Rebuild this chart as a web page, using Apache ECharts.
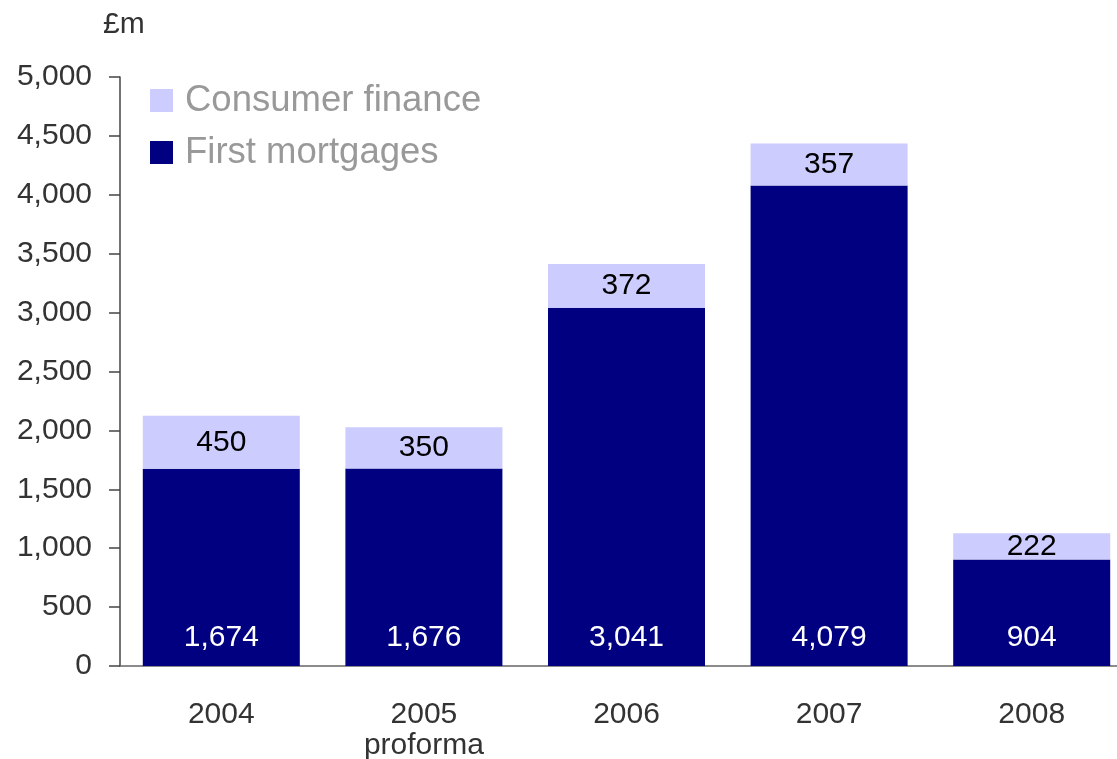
<!DOCTYPE html>
<html><head><meta charset="utf-8">
<script src="https://cdn.jsdelivr.net/npm/echarts@6/dist/echarts.min.js"></script>
<style>html,body{margin:0;padding:0;background:#fff}#c{width:1117px;height:759px}</style>
</head><body><div id="c"></div>
<script>
const categories = ['2004', '2005\nproforma', '2006', '2007', '2008'];
const firstMortgages = [1674, 1676, 3041, 4079, 904];
const consumerFinance = [450, 350, 372, 357, 222];
const yTicks = {min: 0, max: 5000, interval: 500};
const unitLabel = '£m';

const font = 'Liberation Sans, Arial, sans-serif';
const chart = echarts.init(document.getElementById('c'));
chart.setOption({
  animation: false,
  backgroundColor: '#fff',
  title: {text: unitLabel, left: 98, top: 5, textStyle: {fontFamily: font, fontSize: 30, fontWeight: 'normal', color: '#333'}},
  legend: {
    orient: 'vertical', left: 145, top: 77, padding: 5,
    icon: 'rect',
    itemWidth: 23, itemHeight: 23, itemGap: 15,
    data: ['Consumer finance', 'First mortgages'],
    textStyle: {fontFamily: font, fontSize: 36.5, color: '#999', lineHeight: 36, padding: [0,0,0,7]}
  },
  grid: {left: 120, width: 1013, top: 77, bottom: 93, outerBoundsMode: 'none', containLabel: false},
  xAxis: {
    type: 'category', data: categories,
    axisLine: {lineStyle: {color: '#666', width: 1.5}},
    axisTick: {show: false},
    axisLabel: {fontFamily: font, fontSize: 30, color: '#333', margin: 33, lineHeight: 31}
  },
  yAxis: {
    type: 'value', min: yTicks.min, max: yTicks.max, interval: yTicks.interval,
    splitLine: {show: false},
    axisLine: {show: true, lineStyle: {color: '#444', width: 1.5}},
    axisTick: {show: true, length: 11, lineStyle: {color: '#444', width: 1.5}},
    axisLabel: {fontFamily: font, fontSize: 30, color: '#333', margin: 28,
      formatter: v => v.toLocaleString('en-GB')}
  },
  series: [
    {name: 'First mortgages', type: 'bar', stack: 'a', data: firstMortgages, barCategoryGap: '22.5%',
     itemStyle: {color: '#000080'},
     label: {show: true, position: 'insideBottom', distance: 13, color: '#fff', fontFamily: font, fontSize: 30,
       formatter: p => p.value.toLocaleString('en-GB')}},
    {name: 'Consumer finance', type: 'bar', stack: 'a', data: consumerFinance, barCategoryGap: '22.5%',
     itemStyle: {color: '#CCCCFF'},
     label: {show: true, position: 'inside', color: '#000', fontFamily: font, fontSize: 30,
       formatter: p => p.value.toLocaleString('en-GB')}}
  ]
});
</script></body></html>
